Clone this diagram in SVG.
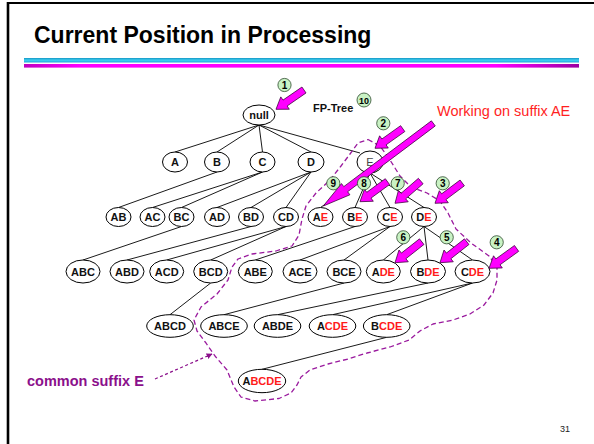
<svg xmlns="http://www.w3.org/2000/svg" xmlns:xlink="http://www.w3.org/1999/xlink" width="594" height="444" viewBox="0 0 594 444">
  <style>
    text { font-family: "Liberation Sans", Arial, sans-serif; }
    .title { font-size: 23px; font-weight: bold; fill: #000; }
    .nd ellipse { fill: #fff; stroke: #000; stroke-width: 1; }
    .nd text { font-size: 11px; font-weight: bold; fill: #111; text-anchor: middle; }
    .r { fill: #ff1a1a; }
    .edge { stroke: #000; stroke-width: 0.9; fill: none; }
    .lasso { stroke: #9a1a9e; stroke-width: 1.3; fill: none; stroke-dasharray: 5 3; stroke-linejoin: round; }
    .ptr { fill: #ff00ff; stroke: #3a003a; stroke-width: 0.7; stroke-linejoin: miter; }
    .badge circle { fill: #c9f2c4; stroke: #2c4a2c; stroke-width: 0.8; }
    .badge text { font-size: 10px; font-weight: bold; fill: #000; text-anchor: middle; }
  </style>
  <defs>
    <linearGradient id="cyanBar" x1="0" y1="0" x2="0" y2="1">
      <stop offset="0" stop-color="#1597c4"/>
      <stop offset="0.5" stop-color="#3fd0f2"/>
      <stop offset="1" stop-color="#20a8d6"/>
    </linearGradient>
    <linearGradient id="magBar" x1="0" y1="0" x2="1" y2="0">
      <stop offset="0" stop-color="#c000c0"/>
      <stop offset="0.1" stop-color="#ff00ff"/>
      <stop offset="0.85" stop-color="#ff00ff"/>
      <stop offset="1" stop-color="#9a00a0"/>
    </linearGradient>
    <path id="fat" d="M-34,-3.6 L-11,-3.6 L-11,-7.5 L0,0 L-11,7.5 L-11,3.6 L-34,3.6 Z"/>
    <marker id="tip" viewBox="0 0 10 10" refX="9" refY="5" markerWidth="6" markerHeight="6" orient="auto" markerUnits="userSpaceOnUse">
      <path d="M0,0 L10,5 L0,10 Z" fill="#8b108b"/>
    </marker>
  </defs>

  <!-- slide frame -->
  <line x1="8" y1="3" x2="594" y2="3" stroke="#000" stroke-width="2"/>
  <line x1="8" y1="2" x2="8" y2="444" stroke="#000" stroke-width="2.6"/>

  <text class="title" x="34" y="43">Current Position in Processing</text>
  <rect x="24" y="58" width="555" height="4.5" fill="url(#cyanBar)"/>
  <rect x="24" y="64" width="555" height="3.6" fill="url(#magBar)"/>

  <!-- tree edges: parent bottom to child top -->
  <g id="edges" class="edge">
    <line x1="259" y1="125" x2="175" y2="152"/>
    <line x1="259" y1="125" x2="217" y2="152"/>
    <line x1="259" y1="125" x2="262.5" y2="152"/>
    <line x1="259" y1="125" x2="311" y2="152"/>
    <line x1="259" y1="125" x2="360" y2="153"/>
    <line x1="217" y1="172" x2="118.5" y2="207.5"/>
    <line x1="262.5" y1="172" x2="152.5" y2="207.5"/>
    <line x1="262.5" y1="172" x2="181.5" y2="207.5"/>
    <line x1="311" y1="172" x2="217" y2="207.5"/>
    <line x1="311" y1="172" x2="251" y2="207.5"/>
    <line x1="311" y1="172" x2="286" y2="207.5"/>
    <line x1="370" y1="173" x2="320.5" y2="207.5"/>
    <line x1="370" y1="173" x2="355" y2="207.5"/>
    <line x1="370" y1="173" x2="390" y2="207.5"/>
    <line x1="370" y1="173" x2="424" y2="207.5"/>
    <line x1="181.5" y1="226.5" x2="83" y2="260"/>
    <line x1="251" y1="226.5" x2="127" y2="260"/>
    <line x1="286" y1="226.5" x2="166.7" y2="260"/>
    <line x1="286" y1="226.5" x2="210.7" y2="260"/>
    <line x1="355" y1="226.5" x2="255.3" y2="260"/>
    <line x1="390" y1="226.5" x2="300" y2="260"/>
    <line x1="390" y1="226.5" x2="344" y2="260"/>
    <line x1="424" y1="226.5" x2="383.3" y2="260"/>
    <line x1="424" y1="226.5" x2="428" y2="260"/>
    <line x1="424" y1="226.5" x2="472.5" y2="260"/>
    <line x1="210.7" y1="283" x2="170" y2="314.7"/>
    <line x1="344" y1="283" x2="224" y2="314.7"/>
    <line x1="428" y1="283" x2="277.5" y2="314.7"/>
    <line x1="472.5" y1="283" x2="332.5" y2="314.7"/>
    <line x1="472.5" y1="283" x2="386.7" y2="314.7"/>
    <line x1="386.7" y1="337.3" x2="262" y2="369.3"/>
  </g>

  <!-- dashed outline around the E branch -->
  <path class="lasso" d="M368,139.5 L380,146 L390,160 L400,176 L411,187 L427,193 L440,201 L448,213 L456,229 L471,243 L489,256 L497,267 L497,280 L493,293 L484,305 L470,314 L453,320 L433,324 L420,331 L409,340 L390,347 L367,353 L348,359 L328,364 L310,370 L301,377 L297,385 L291,393 L279,398.5 L255,401 L241,397 L234,387 L227,370 L215,356 L206,343 L197,331 L194,320 L201,307 L217,294 L228,280 L232,267 L238,259 L252,254 L276,251 L292,246 L299,235 L302,219 L306,206 L316,193 L330,180 L341,166 L350,154 L358,143 Z"/>

  <!-- nodes -->
  <g id="n-null" class="nd"><ellipse cx="259" cy="115" rx="16" ry="10"/><text x="259" y="119">null</text></g>
  <g id="n-A" class="nd"><ellipse cx="175" cy="162" rx="12.5" ry="10"/><text x="175" y="166">A</text></g>
  <g id="n-B" class="nd"><ellipse cx="217" cy="162" rx="12.5" ry="10"/><text x="217" y="166">B</text></g>
  <g id="n-C" class="nd"><ellipse cx="262.5" cy="162" rx="12.5" ry="10"/><text x="262.5" y="166">C</text></g>
  <g id="n-D" class="nd"><ellipse cx="311" cy="162" rx="13" ry="10"/><text x="311" y="166">D</text></g>
  <g id="n-E" class="nd"><ellipse cx="370" cy="162" rx="13" ry="11"/><text x="370" y="166" style="font-weight:normal;fill:#444">E</text></g>

  <g id="n-AB" class="nd"><ellipse cx="118.5" cy="217" rx="12.5" ry="9.5"/><text x="118.5" y="221">AB</text></g>
  <g id="n-AC" class="nd"><ellipse cx="152.5" cy="217" rx="12.5" ry="9.5"/><text x="152.5" y="221">AC</text></g>
  <g id="n-BC" class="nd"><ellipse cx="181.5" cy="217" rx="12.5" ry="9.5"/><text x="181.5" y="221">BC</text></g>
  <g id="n-AD" class="nd"><ellipse cx="217" cy="217" rx="12.5" ry="9.5"/><text x="217" y="221">AD</text></g>
  <g id="n-BD" class="nd"><ellipse cx="251" cy="217" rx="12.5" ry="9.5"/><text x="251" y="221">BD</text></g>
  <g id="n-CD" class="nd"><ellipse cx="286" cy="217" rx="12.5" ry="9.5"/><text x="286" y="221">CD</text></g>
  <g id="n-AE" class="nd"><ellipse cx="320.5" cy="217" rx="12.5" ry="9.5"/><text x="320.5" y="221">A<tspan class="r">E</tspan></text></g>
  <g id="n-BE" class="nd"><ellipse cx="355" cy="217" rx="12.5" ry="9.5"/><text x="355" y="221">B<tspan class="r">E</tspan></text></g>
  <g id="n-CE" class="nd"><ellipse cx="390" cy="217" rx="12.5" ry="9.5"/><text x="390" y="221">C<tspan class="r">E</tspan></text></g>
  <g id="n-DE" class="nd"><ellipse cx="424" cy="217" rx="12.5" ry="9.5"/><text x="424" y="221">D<tspan class="r">E</tspan></text></g>

  <g id="n-ABC" class="nd"><ellipse cx="83" cy="271.5" rx="17" ry="11.5"/><text x="83" y="275.5">ABC</text></g>
  <g id="n-ABD" class="nd"><ellipse cx="127" cy="271.5" rx="17" ry="11.5"/><text x="127" y="275.5">ABD</text></g>
  <g id="n-ACD" class="nd"><ellipse cx="166.7" cy="271.5" rx="17" ry="11.5"/><text x="166.7" y="275.5">ACD</text></g>
  <g id="n-BCD" class="nd"><ellipse cx="210.7" cy="271.5" rx="17" ry="11.5"/><text x="210.7" y="275.5">BCD</text></g>
  <g id="n-ABE" class="nd"><ellipse cx="255.3" cy="271.5" rx="17" ry="11.5"/><text x="255.3" y="275.5">ABE</text></g>
  <g id="n-ACE" class="nd"><ellipse cx="300" cy="271.5" rx="17" ry="11.5"/><text x="300" y="275.5">ACE</text></g>
  <g id="n-BCE" class="nd"><ellipse cx="344" cy="271.5" rx="17" ry="11.5"/><text x="344" y="275.5">BCE</text></g>
  <g id="n-ADE" class="nd"><ellipse cx="383.3" cy="271.5" rx="17" ry="11.5"/><text x="383.3" y="275.5">A<tspan class="r">DE</tspan></text></g>
  <g id="n-BDE" class="nd"><ellipse cx="428" cy="271.5" rx="17.5" ry="11.5"/><text x="428" y="275.5">B<tspan class="r">DE</tspan></text></g>
  <g id="n-CDE" class="nd"><ellipse cx="472.5" cy="271.5" rx="17.5" ry="11.5"/><text x="472.5" y="275.5">C<tspan class="r">DE</tspan></text></g>

  <g id="n-ABCD" class="nd"><ellipse cx="170" cy="326" rx="23.3" ry="11.3"/><text x="170" y="330">ABCD</text></g>
  <g id="n-ABCE" class="nd"><ellipse cx="224" cy="326" rx="23.3" ry="11.3"/><text x="224" y="330">ABCE</text></g>
  <g id="n-ABDE" class="nd"><ellipse cx="277.5" cy="326" rx="23.3" ry="11.3"/><text x="277.5" y="330">ABDE</text></g>
  <g id="n-ACDE" class="nd"><ellipse cx="332.5" cy="326" rx="23.3" ry="11.3"/><text x="332.5" y="330">A<tspan class="r">CDE</tspan></text></g>
  <g id="n-BCDE" class="nd"><ellipse cx="386.7" cy="326" rx="23.3" ry="11.3"/><text x="386.7" y="330">B<tspan class="r">CDE</tspan></text></g>

  <g id="n-ABCDE" class="nd"><ellipse cx="262" cy="381" rx="23.7" ry="11.7"/><text x="262" y="385">A<tspan class="r">BCDE</tspan></text></g>

  <!-- labels -->
  <text x="313" y="112" style="font-size:11px;font-weight:bold;fill:#111">FP-Tree</text>
  <text x="437" y="116" style="font-size:14.5px;fill:#ff1f1f">Working on suffix AE</text>
  <text x="27" y="386" style="font-size:14.5px;font-weight:bold;fill:#8b108b">common suffix E</text>
  <line x1="155" y1="379" x2="212" y2="354" stroke="#8b108b" stroke-width="1.2" stroke-dasharray="3 2.5" marker-end="url(#tip)"/>
  <text x="560" y="432" style="font-size:9px;fill:#222">31</text>

  <!-- processing-order pointers -->
  <g id="pointers">
    <use xlink:href="#fat" class="ptr" transform="translate(276,109.3) rotate(145.4)"/>
    <use xlink:href="#fat" class="ptr" transform="translate(375,148.3) rotate(144.6)"/>
    <use xlink:href="#fat" class="ptr" transform="translate(360,201.7) rotate(143.8)"/>
    <use xlink:href="#fat" class="ptr" transform="translate(395,203.3) rotate(139.2)"/>
    <use xlink:href="#fat" class="ptr" transform="translate(435,203.3) rotate(143.2)"/>
    <use xlink:href="#fat" class="ptr" transform="translate(395,262.7) rotate(141.8)"/>
    <use xlink:href="#fat" class="ptr" transform="translate(440,262.7) rotate(141.8)"/>
    <use xlink:href="#fat" class="ptr" transform="translate(489,268.3) rotate(144.2)"/>
    <path class="ptr" d="M-137.6,-3.2 L-28,-3.2 L-28,-7 L0,0 L-28,7 L-28,3.2 L-137.6,3.2 Z" transform="translate(323.3,206) rotate(143.1)"/>
  </g>

  <!-- step badges -->
  <g id="badges" class="badge">
    <g><circle cx="284.5" cy="85" r="6.6"/><text x="284.5" y="88.6">1</text></g>
    <g><circle cx="383.3" cy="123.3" r="6.6"/><text x="383.3" y="126.9">2</text></g>
    <g><circle cx="442.7" cy="183.3" r="6.6"/><text x="442.7" y="186.9">3</text></g>
    <g><circle cx="496.7" cy="242.3" r="6.6"/><text x="496.7" y="245.9">4</text></g>
    <g><circle cx="446.7" cy="237.3" r="6.6"/><text x="446.7" y="240.9">5</text></g>
    <g><circle cx="403.3" cy="237.3" r="6.6"/><text x="403.3" y="240.9">6</text></g>
    <g><circle cx="397.7" cy="183.3" r="6.6"/><text x="397.7" y="186.9">7</text></g>
    <g><circle cx="364" cy="183.3" r="6.6"/><text x="364" y="186.9">8</text></g>
    <g><circle cx="333.3" cy="183.3" r="6.6"/><text x="333.3" y="186.9">9</text></g>
    <g><circle cx="364" cy="100" r="7"/><text x="364" y="103.5" style="font-size:9px">10</text></g>
  </g>
</svg>
